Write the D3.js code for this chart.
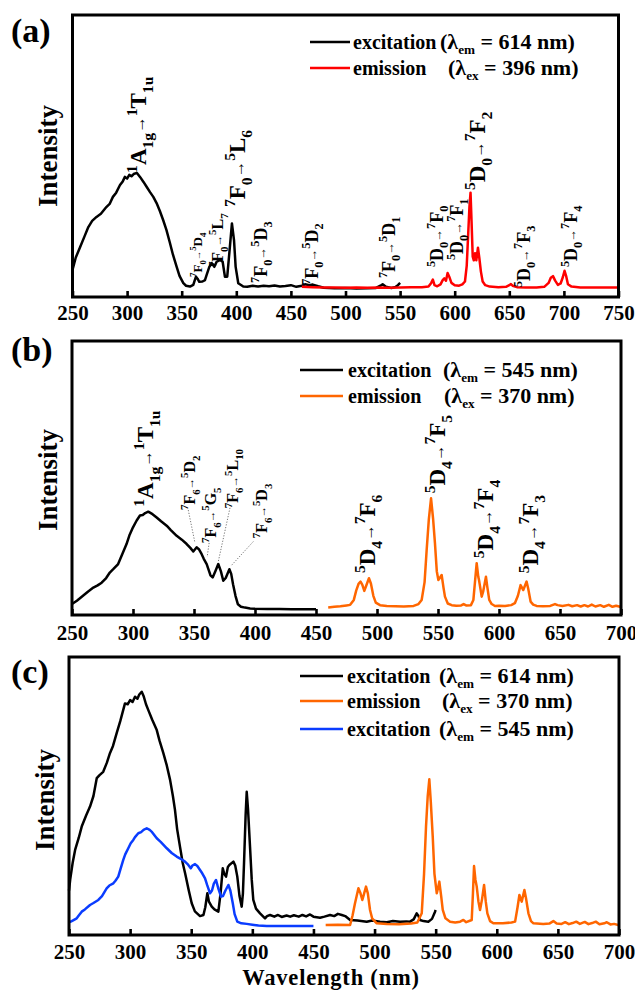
<!DOCTYPE html>
<html><head><meta charset="utf-8">
<script src="https://cdn.jsdelivr.net/npm/d3@7"></script>
<style>
body{margin:0;background:#fff}
svg{display:block;background:#fff}
text{font-family:"Liberation Serif","Times New Roman",serif;font-weight:bold;fill:#000}
</style></head><body>
<svg id="chart" width="635" height="990"></svg>
<script>
// ---------- tick values ----------
const ticksA = [250,300,350,400,450,500,550,600,650,700,750];
const ticksBC = [250,300,350,400,450,500,550,600,650,700];

// ---------- spectra: [wavelength (nm), relative intensity] ----------
// (a) excitation, λem = 614 nm
const excA = [[250,0.096],[253,0.14],[257,0.177],[261,0.215],[264.5,0.248],[268,0.27],[272,0.284],[276,0.295],[281,0.319],[284,0.33],[287,0.355],[290,0.37],[293.5,0.397],[296,0.41],[298,0.426],[300,0.42],[302,0.433],[304,0.428],[306,0.436],[309,0.44],[312,0.425],[315,0.408],[318,0.39],[321,0.372],[324,0.355],[327,0.333],[330,0.305],[333,0.273],[336,0.238],[339,0.195],[342,0.15],[345.4,0.107],[348,0.075],[351.5,0.049],[354,0.04],[357.6,0.037],[360.6,0.043],[362,0.06],[363.1,0.072],[364.5,0.065],[366.1,0.054],[369,0.055],[371.3,0.06],[373,0.08],[375.3,0.107],[377.5,0.12],[379.9,0.107],[382,0.125],[385,0.131],[387.5,0.125],[389.6,0.072],[391.7,0.072],[393.6,0.155],[396,0.261],[397.9,0.202],[399.4,0.107],[401.8,0.049],[406.4,0.037],[410,0.036],[415,0.04],[420,0.037],[425,0.04],[430,0.038],[435,0.041],[440,0.037],[445,0.039],[450,0.042],[455,0.036],[460,0.04],[463,0.045],[467,0.042],[470,0.044],[475,0.038],[480,0.033],[490,0.031],[500,0.032],[510,0.03],[520,0.031],[528,0.032],[532,0.04],[534,0.045],[537,0.036],[542,0.032],[546,0.036],[548,0.042],[550,0.05]];
// (a) emission, λex = 396 nm
const emA = [[460,0.036],[470,0.035],[480,0.034],[490,0.034],[500,0.033],[510,0.034],[520,0.033],[530,0.034],[540,0.033],[550,0.034],[560,0.035],[570,0.035],[576,0.037],[578.5,0.05],[580,0.062],[581.5,0.042],[584,0.038],[587,0.045],[589,0.06],[590.5,0.066],[592,0.058],[593.5,0.085],[595,0.072],[597,0.05],[600,0.042],[604,0.04],[607,0.045],[609.4,0.055],[611,0.11],[612.4,0.227],[613.5,0.32],[614.5,0.37],[615.5,0.26],[616.5,0.143],[617.5,0.13],[618.6,0.155],[619.8,0.13],[621.3,0.175],[622.5,0.14],[624,0.09],[625.6,0.055],[628,0.042],[632,0.037],[640,0.035],[647,0.036],[650,0.042],[651.5,0.046],[653,0.04],[657,0.035],[665,0.034],[675,0.034],[682,0.036],[686,0.05],[688,0.068],[690,0.074],[692,0.058],[694.5,0.043],[697,0.048],[699,0.07],[700.6,0.093],[702,0.075],[703.7,0.045],[707,0.037],[715,0.034],[730,0.034],[750,0.034]];
// (b) excitation, λem = 545 nm
const excB = [[250,0.04],[254,0.052],[259,0.07],[263,0.085],[267.5,0.1],[271,0.108],[274.3,0.118],[278,0.135],[281,0.155],[284,0.168],[287.8,0.186],[291,0.22],[294.7,0.259],[297,0.29],[300,0.32],[303,0.345],[305.7,0.363],[308,0.365],[310,0.372],[312.5,0.377],[316,0.368],[319.4,0.356],[323,0.342],[327.6,0.326],[331,0.31],[335.8,0.289],[340,0.275],[344,0.259],[347,0.245],[349.4,0.232],[352.2,0.247],[354,0.24],[356.3,0.222],[358,0.205],[360.4,0.186],[362,0.165],[363.5,0.145],[365.3,0.137],[367.5,0.16],[369.9,0.186],[372,0.16],[374,0.125],[376,0.135],[379,0.167],[380.5,0.15],[382,0.112],[384,0.07],[386,0.039],[388.5,0.03],[391.8,0.027],[396,0.024],[400,0.023],[410,0.022],[420,0.022],[430,0.021],[440,0.021],[450,0.021]];
// (b) emission, λex = 370 nm
const emB = [[460,0.027],[465,0.03],[470,0.032],[475,0.035],[478,0.037],[481,0.055],[483,0.09],[485,0.115],[486.5,0.122],[488,0.11],[489.6,0.088],[491,0.105],[493.4,0.134],[495,0.115],[497,0.07],[499,0.045],[502.5,0.036],[508,0.033],[515,0.032],[522,0.031],[530,0.033],[534,0.04],[536.6,0.055],[539,0.12],[540.7,0.237],[542.5,0.35],[544.3,0.426],[546,0.35],[547.5,0.262],[549,0.16],[550.3,0.128],[551.5,0.135],[553,0.146],[554.5,0.1],[555.7,0.067],[558,0.042],[561.2,0.036],[565,0.034],[569,0.035],[571,0.04],[573,0.035],[577,0.036],[579,0.055],[580.5,0.13],[581.7,0.189],[583,0.14],[583.6,0.128],[585,0.09],[585.8,0.067],[587,0.085],[589.3,0.14],[590.5,0.1],[592,0.055],[594,0.04],[596.7,0.033],[600,0.034],[605,0.033],[610,0.036],[613,0.043],[615.5,0.07],[617.7,0.109],[619.9,0.091],[622.6,0.122],[624,0.095],[625.9,0.049],[628,0.038],[630.8,0.033],[636,0.032],[642,0.033],[645.9,0.04],[648,0.036],[652,0.033],[657,0.037],[660,0.032],[664,0.036],[667,0.031],[670,0.036],[673,0.031],[676,0.038],[679,0.031],[683,0.036],[686,0.03],[690,0.037],[693,0.03],[696,0.034],[700,0.029]];
// (c) excitation, λem = 614 nm
const excC614 = [[250,0.16],[251,0.2],[253,0.26],[255,0.306],[258,0.35],[260.4,0.39],[264,0.43],[267.2,0.462],[270,0.5],[272.7,0.564],[275,0.575],[278,0.587],[281,0.62],[283.5,0.654],[286,0.68],[289,0.726],[292,0.77],[295.8,0.833],[298,0.83],[300,0.845],[302,0.838],[304,0.857],[306,0.85],[307.5,0.865],[309.5,0.875],[311,0.86],[313,0.83],[314.9,0.809],[318,0.775],[321.8,0.737],[324,0.7],[327.2,0.654],[330,0.61],[332.7,0.558],[335,0.5],[336.7,0.45],[338.5,0.38],[340.8,0.318],[343,0.26],[345,0.222],[348,0.16],[350.4,0.114],[353,0.085],[357.2,0.068],[360,0.072],[361.5,0.1],[363.2,0.15],[364.5,0.12],[366.8,0.102],[369,0.092],[372.2,0.084],[374,0.15],[375.8,0.24],[377,0.22],[378.5,0.21],[380,0.245],[381.2,0.252],[384.5,0.264],[386,0.25],[387.7,0.21],[389.5,0.14],[391.3,0.102],[392.3,0.15],[393.2,0.258],[394.5,0.43],[395.4,0.515],[396.5,0.45],[398.1,0.318],[399.5,0.2],[400.8,0.126],[403,0.095],[406.3,0.078],[410.4,0.06],[412,0.068],[414.5,0.072],[418,0.066],[421,0.072],[424,0.065],[428,0.07],[431,0.066],[434,0.071],[438,0.066],[441,0.072],[444,0.067],[447.2,0.074],[450,0.066],[455.4,0.062],[459,0.066],[463.6,0.072],[467,0.068],[470,0.076],[473.2,0.072],[476,0.068],[480,0.054],[486,0.052],[493.6,0.048],[498,0.052],[504.5,0.048],[510,0.046],[515,0.05],[520.9,0.048],[526,0.049],[529,0.048],[532,0.056],[534.5,0.078],[536,0.068],[537.2,0.054],[540,0.05],[544,0.048],[547,0.058],[549.5,0.084],[550,0.09]];
// (c) emission, λex = 370 nm
const emC = [[460,0.036],[470,0.037],[480,0.036],[482,0.07],[484,0.114],[486.8,0.168],[488.5,0.15],[490,0.126],[491.5,0.15],[493,0.174],[494.5,0.15],[496.3,0.09],[498,0.06],[501.8,0.042],[510,0.04],[520,0.039],[530,0.041],[535,0.045],[538.6,0.078],[540.5,0.22],[542.1,0.39],[543.5,0.5],[544.8,0.56],[546,0.48],[547.6,0.354],[549,0.22],[550.9,0.15],[552,0.17],[553,0.192],[554.5,0.14],[555.8,0.09],[558,0.06],[561.8,0.048],[566,0.045],[570,0.048],[572.7,0.054],[575,0.046],[579.5,0.054],[580.5,0.15],[581.4,0.248],[582.5,0.2],[583.6,0.174],[585,0.12],[586.3,0.09],[588,0.13],[589.6,0.18],[591,0.12],[592.3,0.078],[594.5,0.05],[597.2,0.042],[605,0.042],[612,0.045],[615,0.048],[617,0.1],[618.5,0.144],[620.4,0.12],[622.6,0.162],[624,0.13],[625.9,0.078],[628,0.05],[630,0.042],[638,0.04],[643,0.041],[646.3,0.05],[649,0.041],[653,0.04],[656,0.046],[659,0.039],[662,0.043],[665,0.048],[668,0.04],[672,0.047],[675,0.039],[678,0.043],[681,0.048],[684,0.039],[688,0.042],[690,0.046],[693,0.038],[696,0.04],[700,0.035]];
// (c) excitation, λem = 545 nm
const excC545 = [[250,0.046],[251.4,0.048],[253,0.052],[256.3,0.06],[258,0.07],[260.4,0.084],[263,0.092],[267.2,0.108],[270,0.115],[274,0.126],[277,0.14],[280.8,0.168],[283,0.178],[286.3,0.186],[288,0.195],[290.3,0.21],[292,0.235],[294.4,0.27],[296,0.29],[298.5,0.312],[300.5,0.33],[302.6,0.342],[304,0.352],[306.7,0.366],[309,0.37],[311,0.378],[313.6,0.384],[316,0.378],[318,0.37],[321.8,0.348],[325,0.335],[330,0.312],[334,0.295],[338.1,0.282],[341,0.275],[344.9,0.264],[347,0.255],[349.6,0.24],[351,0.25],[353.1,0.255],[355,0.248],[357.2,0.234],[359,0.222],[361.3,0.204],[363,0.18],[365.4,0.15],[367,0.16],[368.5,0.185],[370.3,0.198],[372,0.17],[374.4,0.138],[376,0.14],[378,0.16],[380.4,0.18],[382,0.16],[384,0.114],[385.5,0.075],[387.7,0.048],[391,0.042],[395.4,0.04],[400,0.037],[405,0.034],[411.8,0.032],[420,0.032],[430,0.032],[440,0.032],[450,0.032]];

// ---------- legend entries: name, condition ({..}=superscript, [..]=subscript) ----------
const legendA = [["excitation","(λ[em] = 614 nm)"],["emission","(λ[ex] = 396 nm)"]];
const legendB = [["excitation","(λ[em] = 545 nm)"],["emission","(λ[ex] = 370 nm)"]];
const legendC = [["excitation","(λ[em] = 614 nm)"],["emission","(λ[ex] = 370 nm)"],["excitation","(λ[em] = 545 nm)"]];

// ---------- transition labels: wavelength of baseline, intensity where text starts ----------
const annotA = [
  {nm:317.5, v:0.44,  text:"{1}A[1g]→{1}T[1u]", size:"lg"},
  {nm:407.9, v:0.319, text:"{7}F[0]→{5}L[6]",  size:"lg"},
  {nm:387.8, v:0.106, text:"{7}F[0]→{5}L[7]",  size:"sm"},
  {nm:368.3, v:0.071, text:"{7}F[0]→{5}D[4]",  size:"xs"},
  {nm:428.1, v:0.05,  text:"{7}F[0]→{5}D[3]",  size:"md"},
  {nm:474.8, v:0.043, text:"{7}F[0]→{5}D[2]",  size:"md"},
  {nm:545.3, v:0.067, text:"{7}F[0]→{5}D[1]",  size:"md"},
  {nm:589.2, v:0.106, text:"{5}D[0]→{7}F[0]",  size:"md"},
  {nm:607.6, v:0.131, text:"{5}D[0]→{7}F[1]",  size:"md"},
  {nm:627.7, v:0.379, text:"{5}D[0]→{7}F[2]",  size:"lg"},
  {nm:668.9, v:0.035, text:"{5}D[0]→{7}F[3]",  size:"md"},
  {nm:712.0, v:0.106, text:"{5}D[0]→{7}F[4]",  size:"md"}
];
const annotB = [
  {nm:316.6, v:0.395, text:"{1}A[1g]→{1}T[1u]", size:"lg"},
  {nm:350.8, v:0.383, text:"{7}F[6]→{5}D[2]",  size:"sm"},
  {nm:368.0, v:0.263, text:"{7}F[6]→{5}G[5]",  size:"sm"},
  {nm:386.3, v:0.39,  text:"{7}F[6]→{5}L[10]", size:"sm"},
  {nm:409.6, v:0.28,  text:"{7}F[6]→{5}D[3]",  size:"sm"},
  {nm:498.4, v:0.153, text:"{5}D[4]→{7}F[6]",  size:"lg"},
  {nm:555.7, v:0.444, text:"{5}D[4]→{7}F[5]",  size:"lg"},
  {nm:595.3, v:0.207, text:"{5}D[4]→{7}F[4]",  size:"lg"},
  {nm:632.2, v:0.152, text:"{5}D[4]→{7}F[3]",  size:"lg"}
];
// dotted leaders from small labels to their peaks: [nm1, v1, nm2, v2]
const leadersB = [[345.3,0.383,350.8,0.263],[362.4,0.263,360.8,0.212],[379.5,0.391,369.9,0.195],[398.6,0.268,380.9,0.182]];

// ---------- layout ----------
const colors = {black:"#000000", red:"#ff0000", orange:"#ff6600", blue:"#0a3cff"};
const fontSizes = {lg:23, md:18, sm:16, xs:13};
const panels = [
  {label:"(a)", box:{l:72.5,r:618.5,t:15,b:297}, domain:[250,750], ticks:ticksA, pad:8,
   series:[[excA,colors.black],[emA,colors.red]],
   legend:legendA, legendColors:[colors.black,colors.red],
   leg:{x0:310,x1:350,tx:353,cx:[440,448],y:[49,75]},
   annot:annotA, leaders:[], labelY:42, intensityY:156, intensityX:57},
  {label:"(b)", box:{l:72,r:621,t:341,b:615}, domain:[250,700], ticks:ticksBC, pad:10,
   series:[[excB,colors.black],[emB,colors.orange]],
   legend:legendB, legendColors:[colors.black,colors.orange],
   leg:{x0:300,x1:343,tx:348,cx:[443,444],y:[377,403]},
   annot:annotB, leaders:leadersB, labelY:361, intensityY:480, intensityX:57},
  {label:"(c)", box:{l:69,r:619,t:657,b:935}, domain:[250,700], ticks:ticksBC, pad:9,
   series:[[excC614,colors.black],[emC,colors.orange],[excC545,colors.blue]],
   legend:legendC, legendColors:[colors.black,colors.orange,colors.blue],
   leg:{x0:300,x1:343,tx:347,cx:[439,442,439],y:[683,708,736]},
   annot:[], leaders:[], labelY:683, intensityY:800, intensityX:54}
];

const svg = d3.select("#chart");

// split "{sup}[sub]→" markup into styled runs
function parseParts(str){
  const out=[]; let i=0;
  while(i<str.length){
    const c=str[i];
    if(c==="{"||c==="["){
      const end=str.indexOf(c==="{"?"}":"]",i);
      out.push({t:str.slice(i+1,end),k:c==="{"?"sup":"sub"}); i=end+1;
    } else if(c==="→"){
      out.push({t:c,k:"arrow"}); i++;
    } else {
      let j=i; while(j<str.length && !"{[→".includes(str[j])) j++;
      out.push({t:str.slice(i,j),k:"base"}); i=j;
    }
  }
  return out;
}
function richText(sel, str, size, subScale, subShift){
  const shift={base:0,sup:-0.42,sub:subShift||0.3,arrow:-0.04};
  const scale={base:1,sup:0.68,sub:subScale||0.68,arrow:0.72};
  let cur=0;
  parseParts(str).forEach(p=>{
    const target=shift[p.k]*size;
    sel.append("tspan").attr("dy",target-cur).attr("font-size",size*scale[p.k]).text(p.t);
    cur=target;
  });
}

panels.forEach(p=>{
  const {l,r,t,b} = p.box;
  const x = d3.scaleLinear().domain(p.domain).range([l,r]);
  const y = d3.scaleLinear().domain([0,1]).range([b,t]);
  const g = svg.append("g");

  // spectra
  const line = d3.line().x(d=>x(d[0])).y(d=>y(d[1]));
  p.series.forEach(([data,color])=>{
    g.append("path").datum(data).attr("d",line)
      .attr("fill","none").attr("stroke",color).attr("stroke-width",2.5)
      .attr("stroke-linejoin","round");
  });

  // bottom axis with inward ticks
  const axis = d3.axisBottom(x).tickValues(p.ticks).tickSize(-6).tickPadding(p.pad).tickFormat(d3.format("d"));
  const ax = g.append("g").attr("transform",`translate(0,${b})`).call(axis);
  ax.select(".domain").remove();
  ax.selectAll("line").attr("stroke","#000").attr("stroke-width",2.6);
  ax.selectAll("text").attr("font-size",21);

  // frame
  g.append("rect").attr("x",l).attr("y",t).attr("width",r-l).attr("height",b-t)
    .attr("fill","none").attr("stroke","#000").attr("stroke-width",3);

  // leaders
  p.leaders.forEach(d=>{
    g.append("line").attr("x1",x(d[0])).attr("y1",y(d[1])).attr("x2",x(d[2])).attr("y2",y(d[3]))
      .attr("stroke","#666").attr("stroke-width",0.9).attr("stroke-dasharray","1.2,1.6");
  });

  // transition labels
  p.annot.forEach(a=>{
    const txt = g.append("text")
      .attr("transform",`translate(${x(a.nm)},${y(a.v)}) rotate(-90)`);
    richText(txt, a.text, fontSizes[a.size]);
  });

  // legend
  p.legend.forEach((e,i)=>{
    const yy = p.leg.y[i];
    g.append("line").attr("x1",p.leg.x0).attr("x2",p.leg.x1).attr("y1",yy-7).attr("y2",yy-7)
      .attr("stroke",p.legendColors[i]).attr("stroke-width",2.4);
    g.append("text").attr("x",p.leg.tx).attr("y",yy).attr("font-size",20).text(e[0]);
    const c = g.append("text").attr("x",p.leg.cx[i]).attr("y",yy);
    richText(c, e[1], 22, 0.6, 0.22);
  });

  // panel tag and y title
  svg.append("text").attr("x",11).attr("y",p.labelY).attr("font-size",34).text(p.label);
  svg.append("text").attr("transform",`translate(${p.intensityX},${p.intensityY}) rotate(-90)`)
    .attr("text-anchor","middle").attr("font-size",27).text("Intensity");
});

svg.append("text").attr("x",331).attr("y",985).attr("text-anchor","middle")
  .attr("font-size",22.5).attr("letter-spacing",0.8).text("Wavelength (nm)");
</script></body></html>
